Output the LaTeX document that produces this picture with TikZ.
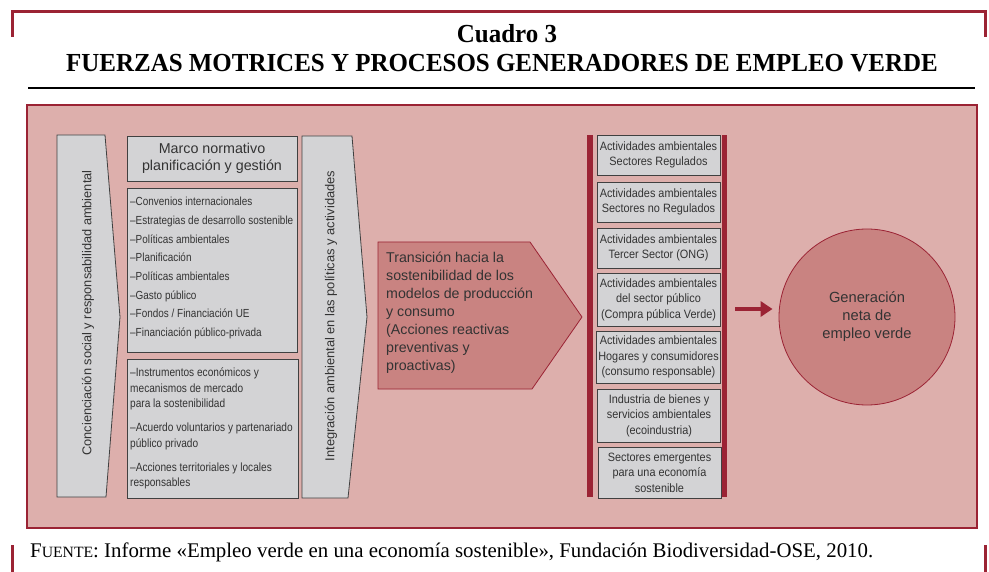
\documentclass[tikz,border=0pt]{standalone}
\usepackage{fontspec}
\setmainfont{Liberation Serif}
\newfontfamily\futura{Liberation Sans}
\newfontfamily\futuracond[FakeStretch=0.85]{Liberation Sans}
\newfontfamily\futurasector[FakeStretch=0.9]{Liberation Sans}
\newfontfamily\titulofont[FakeStretch=0.96]{Liberation Serif}
\usetikzlibrary{calc, arrows.meta}

\definecolor{rojooscuro}{HTML}{9B2334}
\definecolor{rosafondo}{HTML}{DDAFAC}
\definecolor{rosamedio}{HTML}{C98381}
\definecolor{grisbox}{HTML}{D3D3D5}
\definecolor{textogris}{HTML}{333333}

\tikzset{
  cajagris/.style={draw=black!75, fill=grisbox, line width=0.8pt},
  cajatexto/.style={cajagris, inner sep=2pt, text=textogris},
  textolista/.style={font=\futuracond\fontsize{11.7}{18.7}\selectfont, text=textogris, align=left, anchor=north west, inner sep=0pt},
  textosector/.style={cajatexto, font=\futurasector\fontsize{12.1}{15.5}\selectfont, align=center, minimum width=123pt},
  flecha/.style={rojooscuro, line width=4pt, -{Triangle[length=12pt,width=15pt]}}
}

\begin{document}
\begin{tikzpicture}[x=1pt,y=-1pt]
  \useasboundingbox (0,0) rectangle (989,572);

  % marco superior e inferior
  \draw[rojooscuro, line width=3pt] (12,37) -- (12,12) -- (985,12) -- (985,37);
  \draw[rojooscuro, line width=3pt] (12,545) -- (12,572);
  \draw[rojooscuro, line width=3pt] (985,545) -- (985,572);

  \node[font=\titulofont\bfseries\fontsize{26}{26}\selectfont] (cuadro) at (507,34) {Cuadro 3};
  \node[font=\titulofont\bfseries\fontsize{26}{26}\selectfont] (titulo) at (502,63)
    {FUERZAS MOTRICES Y PROCESOS GENERADORES DE EMPLEO VERDE};
  \draw[line width=2pt] (28,88) -- (975,88);

  % fondo
  \draw[rojooscuro, fill=rosafondo, line width=1.2pt] (27,105) rectangle (977,528);

  % flecha izquierda
  \draw[cajagris] (57,135) -- (105,135) -- (120,317) -- (106,497) -- (57,497) -- cycle;
  \node[rotate=90, font=\futura\fontsize{12.8}{13}\selectfont, text=textogris] (conciencia) at (88,313)
    {Concienciación social y responsabilidad ambiental};

  % marco normativo
  \node[cajatexto, minimum width=170pt, minimum height=45pt, align=center,
        font=\futura\fontsize{14.3}{17}\selectfont] (marco) at (212,158.5)
    {Marco normativo\\planificación y gestión};

  \draw[cajagris] (127,188) rectangle (297,352);
  \node[textolista] (lista1) at (130,197)
    {–Convenios internacionales\\
     –Estrategias de desarrollo sostenible\\
     –Políticas ambientales\\
     –Planificación\\
     –Políticas ambientales\\
     –Gasto público\\
     –Fondos / Financiación UE\\
     –Financiación público-privada};

  \draw[cajagris] (127,359) rectangle (298,498);
  \node[textolista, font=\futuracond\fontsize{11.9}{15.3}\selectfont] (lista2) at (130,368)
    {–Instrumentos económicos y\\
     mecanismos de mercado\\
     para la sostenibilidad\\[9pt]
     –Acuerdo voluntarios y partenariado\\
     público privado\\[9pt]
     –Acciones territoriales y locales\\
     responsables};

  % flecha integracion
  \draw[cajagris] (302,136) -- (352,136) -- (367,317) -- (348,498) -- (302,498) -- cycle;
  \node[rotate=90, font=\futura\fontsize{12.9}{13}\selectfont, text=textogris] (integracion) at (331,316)
    {Integración ambiental en las políticas y actividades};

  % transicion
  \draw[rojooscuro, fill=rosamedio, line width=0.8pt] (378,242) -- (530,242) -- (582,317) -- (532,389) -- (378,389) -- cycle;
  \node[anchor=north west, inner sep=0pt, align=left, text=textogris,
        font=\futura\fontsize{14.2}{17.9}\selectfont] (transicion) at (386,252)
    {Transición hacia la\\
     sostenibilidad de los\\
     modelos de producción\\
     y consumo\\
     (Acciones reactivas\\
     preventivas y\\
     proactivas)};

  % sectores
  \fill[rojooscuro] (587,135) rectangle (593,497);
  \fill[rojooscuro] (722,135) rectangle (727,497);
  \node[textosector, minimum height=40pt] (s1) at (658.5,155) {Actividades ambientales\\Sectores Regulados};
  \node[textosector, minimum height=40pt] (s2) at (658.5,202) {Actividades ambientales\\Sectores no Regulados};
  \node[textosector, minimum height=40pt] (s3) at (658.5,248) {Actividades ambientales\\Tercer Sector (ONG)};
  \node[textosector, minimum height=53pt] (s4) at (658.5,299.5) {Actividades ambientales\\del sector público\\(Compra pública Verde)};
  \node[textosector, minimum height=52pt] (s5) at (658.5,357) {Actividades ambientales\\Hogares y consumidores\\(consumo responsable)};
  \node[textosector, minimum height=53pt] (s6) at (659,415.5) {Industria de bienes y\\servicios ambientales\\(ecoindustria)};
  \node[textosector, minimum height=51pt] (s7) at (659.5,472.5) {Sectores emergentes\\para una economía\\sostenible};

  % generacion de empleo
  \node[circle, draw=rojooscuro, fill=rosamedio, line width=0.8pt, minimum size=176pt,
        align=center, text=textogris, font=\futura\fontsize{14.7}{18}\selectfont] (empleo) at (867,317)
    {Generación\\neta de\\empleo verde};
  \coordinate (flechaini) at (735,309);
  \draw[flecha] (flechaini) -- ([xshift=-6pt]flechaini -| empleo.west);

  % fuente
  \node[anchor=west, inner sep=0pt, font=\fontsize{20.85}{20.85}\selectfont] (fuente) at (30,552)
    {F{\fontsize{15.7}{15.7}\selectfont UENTE}: Informe «Empleo verde en una economía sostenible», Fundación Biodiversidad-OSE, 2010.};
\end{tikzpicture}
\end{document}
